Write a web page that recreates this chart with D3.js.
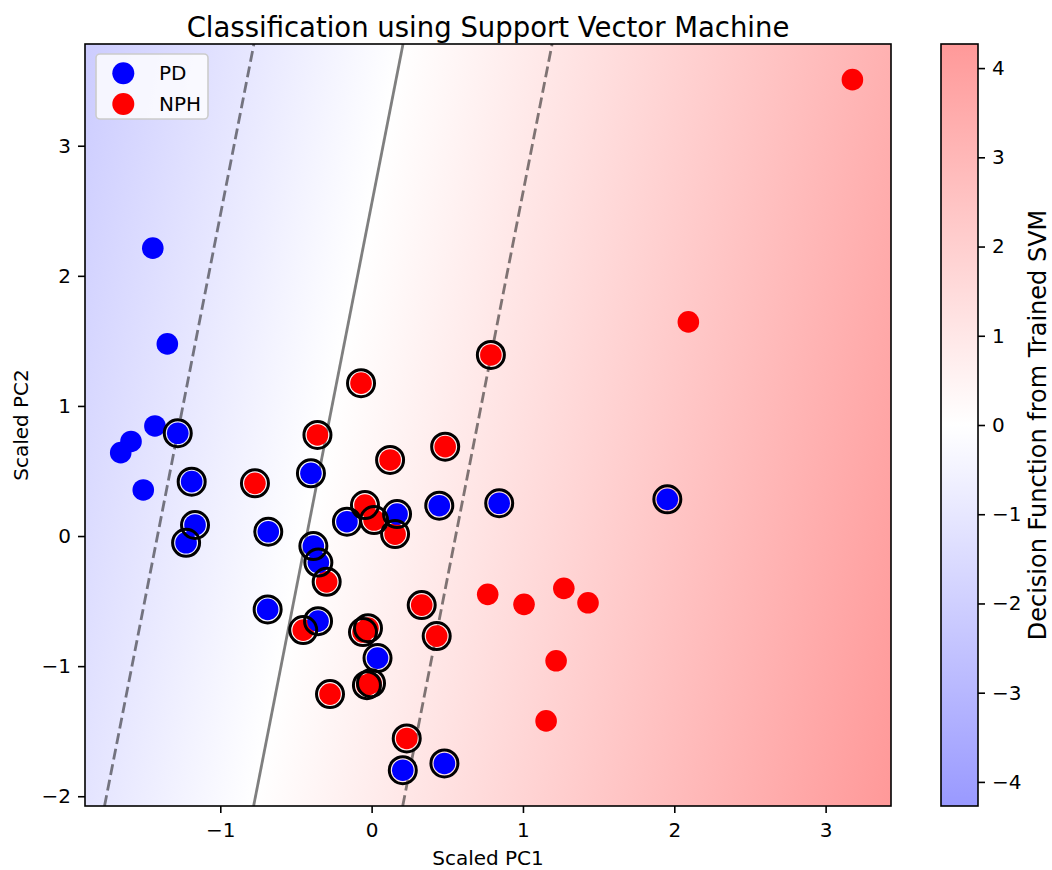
<!DOCTYPE html>
<html>
<head>
<meta charset="utf-8">
<script src="https://cdn.jsdelivr.net/npm/d3@7"></script>
<style>
  body { margin: 0; background: #fff; }
  text { font-family: "DejaVu Sans", sans-serif; }
</style>
</head>
<body>
<div id="chart"></div>
<script>
// PD samples (scaled PC1, scaled PC2) and support vector flag
var pdPC1 = [-1.446, -1.350, -1.432, -1.590, -1.658, -1.509,
  -1.281, -1.189, -1.167, -1.226, -0.683, -0.401, -0.385, -0.352, -0.687,
  -0.354, -0.163, 0.168, 0.039, 0.447, 0.843, 1.954, 0.206, 0.481];
var pdPC2 = [2.213, 1.477, 0.846, 0.727, 0.641, 0.354,
  0.790, 0.418, 0.085, -0.052, 0.033, 0.482, -0.077, -0.204, -0.564,
  -0.654, 0.110, 0.169, -0.938, 0.233, 0.252, 0.282, -1.800, -1.748];
var pdSV = [0, 0, 0, 0, 0, 0,
  1, 1, 1, 1, 1, 1, 1, 1, 1, 1, 1, 1, 1, 1, 1, 1, 1, 1];

// NPH samples
var nphPC1 = [3.177, 2.093, 0.767, 1.007, 1.270, 1.430, 1.219, 1.153,
  -0.070, -0.358, -0.771, 0.486, 0.122, 0.788, -0.297, -0.452, -0.057,
  -0.024, -0.031, -0.004, -0.275, 0.331, 0.430, 0.232, -0.044, 0.016, 0.155];
var nphPC2 = [3.508, 1.646, -0.448, -0.525, -0.402, -0.513, -0.959, -1.421,
  1.175, 0.777, 0.405, 0.687, 0.585, 1.392, -0.352, -0.723, -0.738,
  -0.708, -1.146, -1.131, -1.215, -0.531, -0.769, -1.556, 0.238, 0.123, 0.015];
var nphSV = [0, 0, 0, 0, 0, 0, 0, 0,
  1, 1, 1, 1, 1, 1, 1, 1, 1, 1, 1, 1, 1, 1, 1, 1, 1, 1, 1];

// trained linear SVM: f(pc1, pc2) = w1*pc1 + w2*pc2 + b
var svmW = [1.015, -0.1711];
var svmB = 0.4365;
var contourLevels = [-1, 0, 1];

// axis ranges and ticks
var xDomain = [-1.894, 3.432];
var yDomain = [-2.075, 3.782];
var fMax = 4.27;
var xTicks = [-1, 0, 1, 2, 3];
var yTicks = [-2, -1, 0, 1, 2, 3];
var cbarTicks = [-4, -3, -2, -1, 0, 1, 2, 3, 4];

var margin = { top: 44, left: 85 },
  width = 806,
  height = 762;

var minusFormat = function(d) {
  return d < 0 ? "\u2212" + -d : "" + d;
};

var svg = d3
  .select("#chart")
  .append("svg")
  .attr("width", 1052)
  .attr("height", 870);

var defs = svg.append("defs");

var x = d3.scaleLinear().domain(xDomain).range([0, width]);
var y = d3.scaleLinear().domain(yDomain).range([height, 0]);
var color = d3
  .scaleLinear()
  .domain([-fMax, 0, fMax])
  .range(["#9999ff", "#ffffff", "#ff9999"]);

// decision function in pixel coords of plot
function decision(px, py) {
  return svmW[0] * x.invert(px) + svmW[1] * y.invert(py) + svmB;
}

// f is linear so the background is an exact linear gradient along grad f
var gx = decision(1, 0) - decision(0, 0);
var gy = decision(0, 1) - decision(0, 0);
var g2 = gx * gx + gy * gy;
var f0 = decision(width / 2, height / 2);
function pointAtLevel(level) {
  var t = (level - f0) / g2;
  return [width / 2 + t * gx, height / 2 + t * gy];
}
var pLow = pointAtLevel(-fMax),
  pHigh = pointAtLevel(fMax);

var bg = defs
  .append("linearGradient")
  .attr("id", "bgGrad")
  .attr("gradientUnits", "userSpaceOnUse")
  .attr("x1", pLow[0])
  .attr("y1", pLow[1])
  .attr("x2", pHigh[0])
  .attr("y2", pHigh[1]);
[-fMax, 0, fMax].forEach(function(v) {
  bg.append("stop")
    .attr("offset", (v + fMax) / (2 * fMax))
    .attr("stop-color", color(v));
});

defs
  .append("clipPath")
  .attr("id", "plotClip")
  .append("rect")
  .attr("width", width)
  .attr("height", height);

var plot = svg
  .append("g")
  .attr("transform", "translate(" + margin.left + "," + margin.top + ")");

plot
  .append("rect")
  .attr("width", width)
  .attr("height", height)
  .attr("fill", "url(#bgGrad)");

// margin and boundary lines
var lines = plot.append("g").attr("clip-path", "url(#plotClip)");
contourLevels.forEach(function(level) {
  var xAt = function(yv) {
    return (level - svmB - svmW[1] * yv) / svmW[0];
  };
  lines
    .append("line")
    .attr("x1", x(xAt(yDomain[0])))
    .attr("y1", y(yDomain[0]))
    .attr("x2", x(xAt(yDomain[1])))
    .attr("y2", y(yDomain[1]))
    .attr("stroke", "#000")
    .attr("stroke-opacity", 0.5)
    .attr("stroke-width", 2.8)
    .attr("stroke-dasharray", level === 0 ? null : "11,4.8");
});

// build points
var points = [];
nphPC1.forEach(function(v, i) {
  points.push({ pc1: v, pc2: nphPC2[i], sv: nphSV[i], c: "#ff0000" });
});
pdPC1.forEach(function(v, i) {
  points.push({ pc1: v, pc2: pdPC2[i], sv: pdSV[i], c: "#0000ff" });
});

plot
  .selectAll(".dot")
  .data(points)
  .enter()
  .append("circle")
  .attr("class", "dot")
  .attr("cx", function(d) { return x(d.pc1); })
  .attr("cy", function(d) { return y(d.pc2); })
  .attr("r", 10.8)
  .attr("fill", function(d) { return d.c; });

// support vector rings
plot
  .selectAll(".sv")
  .data(points.filter(function(d) { return d.sv; }))
  .enter()
  .append("circle")
  .attr("class", "sv")
  .attr("cx", function(d) { return x(d.pc1); })
  .attr("cy", function(d) { return y(d.pc2); })
  .attr("r", 13.5)
  .attr("fill", "none")
  .attr("stroke", "#000")
  .attr("stroke-width", 3);

// axes
var xAxis = plot
  .append("g")
  .attr("transform", "translate(0," + height + ")")
  .call(d3.axisBottom(x).tickValues(xTicks).tickSize(7).tickPadding(10).tickFormat(minusFormat));
var yAxis = plot
  .append("g")
  .call(d3.axisLeft(y).tickValues(yTicks).tickSize(7).tickPadding(7).tickFormat(minusFormat));
[xAxis, yAxis].forEach(function(a) {
  a.attr("font-size", 20).attr("font-family", "DejaVu Sans");
  a.select(".domain").remove();
  a.selectAll("line").attr("stroke-width", 1.6);
});

// frame
plot
  .append("rect")
  .attr("width", width)
  .attr("height", height)
  .attr("fill", "none")
  .attr("stroke", "#000")
  .attr("stroke-width", 1.6);

// legend
var legend = svg.append("g");
legend
  .append("rect")
  .attr("x", 96)
  .attr("y", 54)
  .attr("width", 112)
  .attr("height", 65)
  .attr("rx", 4)
  .attr("fill", "#fff")
  .attr("fill-opacity", 0.8)
  .attr("stroke", "#cccccc")
  .attr("stroke-width", 1.6);
[["PD", "#0000ff"], ["NPH", "#ff0000"]].forEach(function(item, i) {
  legend
    .append("circle")
    .attr("cx", 123.3)
    .attr("cy", 73.3 + i * 30.7)
    .attr("r", 11)
    .attr("fill", item[1]);
  legend
    .append("text")
    .attr("x", 159)
    .attr("y", 80 + i * 30.7)
    .attr("font-size", 20)
    .text(item[0]);
});

// titles and labels
svg
  .append("text")
  .attr("x", margin.left + width / 2)
  .attr("y", 37)
  .attr("text-anchor", "middle")
  .attr("font-size", 27.5)
  .text("Classification using Support Vector Machine");
svg
  .append("text")
  .attr("x", margin.left + width / 2)
  .attr("y", 865)
  .attr("text-anchor", "middle")
  .attr("font-size", 20)
  .text("Scaled PC1");
svg
  .append("text")
  .attr("transform", "translate(28," + (margin.top + height / 2) + ") rotate(-90)")
  .attr("text-anchor", "middle")
  .attr("font-size", 20)
  .text("Scaled PC2");

// colorbar
var cbX = 941,
  cbW = 37;
var cScale = d3.scaleLinear().domain([-fMax, fMax]).range([height, 0]);
var cbGrad = defs
  .append("linearGradient")
  .attr("id", "cbGrad")
  .attr("x1", 0)
  .attr("y1", 1)
  .attr("x2", 0)
  .attr("y2", 0);
[-fMax, 0, fMax].forEach(function(v) {
  cbGrad
    .append("stop")
    .attr("offset", (v + fMax) / (2 * fMax))
    .attr("stop-color", color(v));
});
var cbar = svg
  .append("g")
  .attr("transform", "translate(" + cbX + "," + margin.top + ")");
cbar
  .append("rect")
  .attr("width", cbW)
  .attr("height", height)
  .attr("fill", "url(#cbGrad)")
  .attr("stroke", "#000")
  .attr("stroke-width", 1.6);
var cAxis = cbar
  .append("g")
  .attr("transform", "translate(" + cbW + ",0)")
  .call(d3.axisRight(cScale).tickValues(cbarTicks).tickSize(7).tickPadding(7).tickFormat(minusFormat));
cAxis.attr("font-size", 20).attr("font-family", "DejaVu Sans");
cAxis.select(".domain").remove();
cAxis.selectAll("line").attr("stroke-width", 1.6);

svg
  .append("text")
  .attr("transform", "translate(1046," + (margin.top + height / 2) + ") rotate(-90)")
  .attr("text-anchor", "middle")
  .attr("font-size", 24)
  .text("Decision Function from Trained SVM");
</script>
</body>
</html>
